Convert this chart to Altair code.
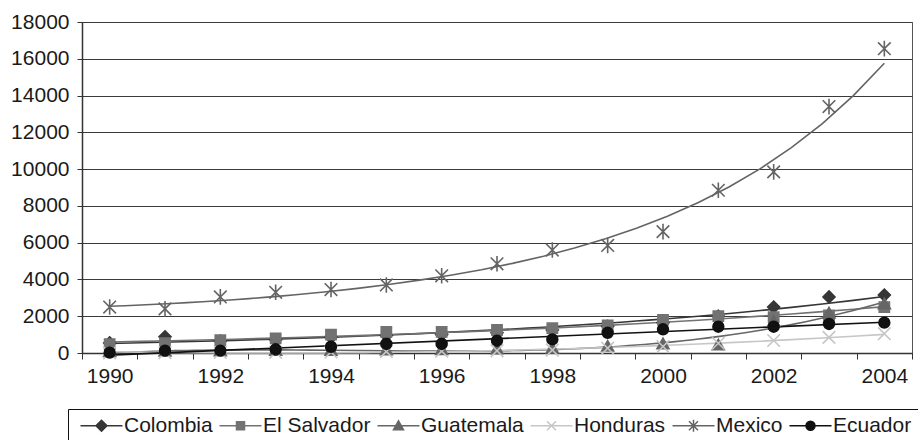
import altair as alt
import pandas as pd

# ---- data -------------------------------------------------------------
years = list(range(1990, 2005))
countries = ["Colombia", "El Salvador", "Guatemala", "Honduras", "Mexico", "Ecuador"]

colombia = [550, 880, 650, 720, 850, 950, 1000, 1100, 1250, 1450, 1650, 2000, 2500, 3050, 3150]
el_salvador = [480, 530, 700, 800, 1000, 1150, 1150, 1250, 1350, 1500, 1800, 2000, 1950, 2050, 2500]
guatemala = [60, 80, 100, 120, 130, 150, 170, 200, 250, 350, 480, 420, 1700, 2150, 2650]
honduras = [10, 20, 30, 40, 60, 80, 100, 120, 160, 260, 350, 530, 680, 850, 1050]
mexico = [2500, 2400, 3050, 3300, 3450, 3700, 4200, 4850, 5600, 5850, 6600, 8850, 9850, 13400, 16550]
ecuador = [20, 130, 130, 200, 340, 490, 490, 670, 740, 1100, 1290, 1430, 1430, 1580, 1650]

series = {
    "Colombia": colombia,
    "El Salvador": el_salvador,
    "Guatemala": guatemala,
    "Honduras": honduras,
    "Mexico": mexico,
    "Ecuador": ecuador,
}

# trend line fitted through each series ("logpoly": quadratic fit of log values)
trend = {
    "Colombia": {"method": "exp"},
    "El Salvador": {"method": "exp"},
    "Guatemala": {"method": "poly", "order": 3},
    "Honduras": {"method": "poly", "order": 2},
    "Mexico": {"method": "logpoly", "order": 2},
    "Ecuador": {"method": "linear"},
}

colors = ["#363636", "#727272", "#666666", "#c6c6c6", "#646464", "#111111"]

# marker outlines (unit box -1..1)
point_paths = [
    "M0,-1L1,0L0,1L-1,0Z",
    "M-0.85,-0.85L0.85,-0.85L0.85,0.85L-0.85,0.85Z",
    "M0,-1L1,0.75L-1,0.75Z",
    "M-1.05,-1.05L1.05,1.05M-1.05,1.05L1.05,-1.05",
    "M-1.05,-1.05L1.05,1.05M-1.05,1.05L1.05,-1.05M0,-1.3L0,1.3",
    "M-0.9,0A0.9,0.9,0,1,0,0.9,0A0.9,0.9,0,1,0,-0.9,0Z",
]
stub = "M-4.2,0L4.2,0"
legend_paths = [
    stub + "M0,-1.1L1.1,0L0,1.1L-1.1,0Z",
    stub + "M-0.8,-0.8L0.8,-0.8L0.8,0.8L-0.8,0.8Z",
    stub + "M0,-1L1,0.8L-1,0.8Z",
    stub + "M-0.9,-0.9L0.9,0.9M-0.9,0.9L0.9,-0.9",
    stub + "M-0.9,-0.9L0.9,0.9M-0.9,0.9L0.9,-0.9M0,-1.2L0,1.2",
    stub + "M-0.9,0A0.9,0.9,0,1,0,0.9,0A0.9,0.9,0,1,0,-0.9,0Z",
]

rows = [
    {"year": y, "country": c, "value": v}
    for c in countries
    for y, v in zip(years, series[c])
]
df = pd.DataFrame(rows)

# ---- layout -----------------------------------------------------------
W, H = 830, 331
step = W / len(years)
FONT = "Liberation Sans"

x_scale = alt.Scale(domain=[1989.5, 2004.5], nice=False, zero=False)
y_scale = alt.Scale(domain=[0, 18000], nice=False)

x_axis = alt.Axis(
    values=[y - 0.5 for y in years] + [years[-1] + 0.5],
    labelExpr="(datum.value + 0.5) % 2 == 0 ? format(datum.value + 0.5, 'd') : ''",
    labelOffset=step / 2,
    labelOverlap=False,
    labelFlush=False,
    labelBound=False,
    grid=False,
    tickSize=6,
    tickColor="#333",
    domainColor="#333",
    domainWidth=1.5,
    labelPadding=6,
    title=None,
)
y_axis = alt.Axis(
    values=list(range(0, 18001, 2000)),
    format="d",
    grid=True,
    gridColor="#3a3a3a",
    gridWidth=1,
    tickSize=5,
    tickColor="#333",
    domainColor="#333",
    domainWidth=1.5,
    labelPadding=8,
    title=None,
)

X = alt.X("year:Q", scale=x_scale, axis=x_axis)
Y = alt.Y("value:Q", scale=y_scale, axis=y_axis)

base = alt.Chart(df)

line_layers = []
for c, col in zip(countries, colors):
    kw = dict(trend[c])
    sub = base.transform_filter(alt.datum.country == c)
    if kw["method"] == "logpoly":
        sub = (
            sub.transform_calculate(lv="log(datum.value)")
            .transform_regression("year", "lv", method="poly", order=kw["order"], extent=[1990, 2004])
            .transform_calculate(value="exp(datum.lv)")
        )
    else:
        sub = sub.transform_regression("year", "value", extent=[1990, 2004], **kw)
    line_layers.append(sub.mark_line(color=col, strokeWidth=1.6).encode(x=X, y=Y))

fill_scale = alt.Scale(domain=countries, range=colors)

points = base.mark_point(filled=True, size=144, strokeWidth=1.6, opacity=1).encode(
    x=X,
    y=Y,
    fill=alt.Fill("country:N", scale=fill_scale, legend=None),
    stroke=alt.Stroke("country:N", scale=fill_scale, legend=None),
    shape=alt.Shape("country:N", scale=alt.Scale(domain=countries, range=point_paths), legend=None),
)

legend = alt.Legend(
    title=None,
    orient="none",
    legendX=-14,
    legendY=387,
    direction="horizontal",
    symbolSize=100,
    symbolStrokeWidth=1.5,
    symbolOpacity=1,
    symbolOffset=17,
    labelOffset=12,
    columnPadding=0,
    padding=6,
    strokeColor="#111",
    fillColor="white",
    labelFont=FONT,
    labelFontSize=21,
    labelColor="#1a1a1a",
    labelLimit=0,
)

key_df = pd.DataFrame({"country": countries, "year": [1970] * len(countries), "value": [0] * len(countries)})
key = alt.Chart(key_df).mark_point(filled=True, size=100, strokeWidth=1.5, opacity=1, clip=True).encode(
    x=X,
    y=Y,
    fill=alt.Fill("country:N", scale=fill_scale, legend=legend),
    stroke=alt.Stroke("country:N", scale=fill_scale, legend=legend),
    shape=alt.Shape("country:N", scale=alt.Scale(domain=countries, range=legend_paths), legend=legend),
)

chart = (
    alt.layer(*line_layers, points, key)
    .resolve_scale(fill="independent", stroke="independent", shape="independent")
    .properties(
        width=W,
        height=H,
        padding={"left": 82, "top": 22, "right": 6, "bottom": 87},
        autosize=alt.AutoSizeParams(type="none"),
    )
    .configure_view(stroke="#555", strokeWidth=1)
    .configure_axis(labelFont=FONT, labelFontSize=21, labelColor="#1a1a1a")
)

chart.save("out.html", embed_options={"renderer": "svg", "actions": False})
